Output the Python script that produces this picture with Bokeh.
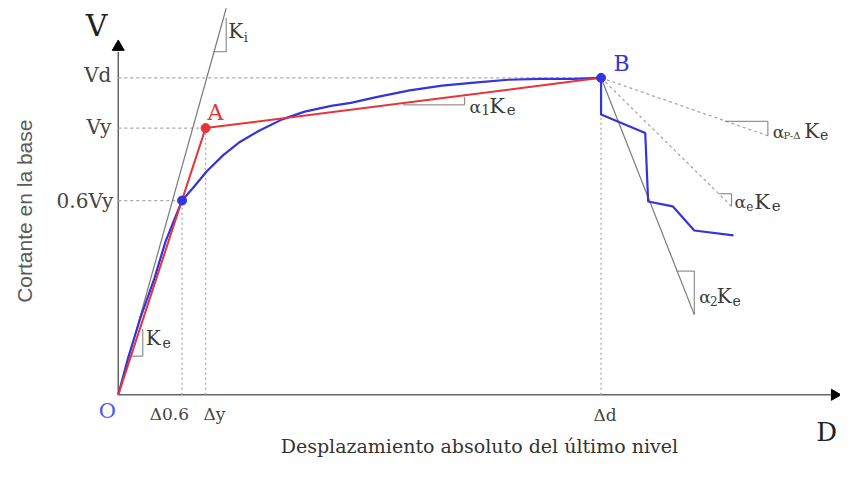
import numpy as np
from bokeh.plotting import figure
from bokeh.models import Range1d
from bokeh.core.properties import value
from bokeh.embed import file_html
from bokeh.resources import INLINE

# ---- data (diagram units: displacement D, base shear V) ----
D06, Dy, Dd = 65, 89, 492
V06, Vy, Vd = 201, 276, 328

# bilinear idealisation (red): O -> A -> B
bil_x = [0, 89, 492]
bil_y = [0, 276, 328]

# capacity curve (blue), rising branch O -> B
cap_x = [0, 10, 23, 37, 48, 57, 65, 77, 90, 107, 123, 143, 167, 190, 217, 237,
         263, 297, 330, 363, 397, 430, 463, 492]
cap_y = [0, 38, 81, 121, 158, 181, 201, 215, 231, 248, 261, 273, 285, 293, 299, 302,
         308, 315, 320, 323, 326, 327, 327, 328]
# softening branch after B
soft_x = [492, 492, 537, 540, 565, 587, 627]
soft_y = [328, 290, 271, 200, 195, 170, 165]

# stiffness reference lines
ki_x, ki_y = [0, 110], [0, 400]
a2_x, a2_y = [492, 587], [328, 83]
ae_x, ae_y = [492, 625], [328, 195]
apd_x, apd_y = [492, 662], [328, 268]

# ---- figure ----
W, H = 840, 461
p = figure(width=W, height=H, x_range=Range1d(-120, 736), y_range=Range1d(-69, 408),
           output_backend="svg", toolbar_location=None, min_border=0)
p.axis.visible = False
p.grid.visible = False
p.outline_line_color = None
p.background_fill_color = "white"
p.border_fill_color = "white"

SERIF = value("DejaVu Serif")
GRAY = "#7a7a7a"
DOT = "#a8a8a8"
RED = "#e8333a"
BLUE = "#3434dc"
TXT = "#333333"

# axes with arrow heads
p.line([0, 0], [0, 355], line_color="#666666", line_width=1.5)
p.scatter([0], [360], marker="triangle", size=12, color="black")
p.line([0, 726], [0, 0], line_color="#666666", line_width=1.5)
p.scatter([730], [0], marker="triangle", size=11, color="black", angle=-np.pi / 2)

# dotted reference lines
p.line([0, Dd], [Vd, Vd], line_color=DOT, line_dash="3 3", line_width=1.3)
p.line([0, Dy], [Vy, Vy], line_color=DOT, line_dash="3 3", line_width=1.3)
p.line([0, D06], [V06, V06], line_color=DOT, line_dash="3 3", line_width=1.3)
p.line([D06, D06], [0, V06], line_color=DOT, line_dash="2 3", line_width=1.3)
p.line([Dy, Dy], [0, Vy], line_color=DOT, line_dash="2 3", line_width=1.3)
p.line([Dd, Dd], [0, Vd], line_color=DOT, line_dash="2 3", line_width=1.3)

# stiffness lines and slope triangles
p.line(ki_x, ki_y, line_color=GRAY, line_width=1.2)
p.line([97, 110, 110], [355, 355, 390], line_color=GRAY, line_width=1)
p.line([13, 25, 25], [40, 40, 68], line_color=GRAY, line_width=1)
p.line([290, 353, 353], [300, 300, 308], line_color=GRAY, line_width=1)
p.line(a2_x, a2_y, line_color=GRAY, line_width=1.2)
p.line([569, 587, 587], [128, 128, 83], line_color=GRAY, line_width=1)
p.line(ae_x, ae_y, line_color=DOT, line_dash="3 3", line_width=1.3)
p.line([612, 625, 625], [208, 208, 195], line_color=GRAY, line_width=1)
p.line(apd_x, apd_y, line_color=DOT, line_dash="3 3", line_width=1.3)
p.line([618, 662, 662], [283, 283, 268], line_color=GRAY, line_width=1)

# curves
p.line(cap_x, cap_y, line_color=BLUE, line_width=2.2)
p.line(bil_x, bil_y, line_color=RED, line_width=2.0)
p.line(soft_x, soft_y, line_color=BLUE, line_width=2.2)

p.scatter([bil_x[1]], [bil_y[1]], size=9, color=RED)
p.scatter([D06, Dd], [V06, Vd], size=9, color=BLUE)


# text helpers (positions given in diagram units)
def txt(x, y, s, size, color=TXT, align="left", baseline="middle", font=SERIF, angle=0.0):
    p.text([x], [y], text=[s], text_font=font, text_font_size=f"{size}px", text_color=color,
           text_align=align, text_baseline=baseline, angle=angle)


def parts(items, color="#3a3a3a"):
    for x, y, s, size in items:
        txt(x, y, s, size, color, "left", "middle")


txt(-22, 382, "V", 30, "#222222", "center")
txt(722, -38, "D", 26, "#222222", "center")
txt(-7, 331, "Vd", 20, "#444444", "right")
txt(-7, 277, "Vy", 20, "#444444", "right")
txt(-5, 201, "0.6Vy", 20, "#444444", "right")
txt(-11, -17, "O", 21, "#4a5ae4", "center")
txt(52, -20, "Δ0.6", 17, "#444444", "center")
txt(98, -20, "Δy", 17, "#444444", "center")
txt(496, -21, "Δd", 17, "#444444", "center")
txt(99, 292, "A", 22, RED, "center")
txt(513, 343, "B", 22, BLUE, "center")

# stiffness labels
parts([(112, 376, "K", 20), (128, 370, "i", 13)])
parts([(28, 59, "K", 20), (45, 54, "e", 14)])
parts([(358, 298, "α", 17), (370, 295, "1", 14), (378, 299, "K", 21), (396, 295, "e", 15)])
parts([(592, 101, "α", 17), (603, 97, "2", 12), (610, 102, "K", 20), (626, 98, "e", 14)])
parts([(628, 199, "α", 17), (640, 195, "e", 12), (648, 200, "K", 21), (666, 196, "e", 15)])
parts([(667, 272, "α", 17), (678, 268, "P-Δ", 10), (699, 273, "K", 20), (715, 269, "e", 14)])

# axis titles
txt(368, -53, "Desplazamiento absoluto del último nivel", 19, TXT, "center")
txt(-96, 190, "Cortante en la base", 21, "#5a5a5a", "center",
    font=value("Liberation Sans Narrow, Liberation Sans"), angle=np.pi / 2)

open("out.html", "w").write(file_html(p, INLINE))
